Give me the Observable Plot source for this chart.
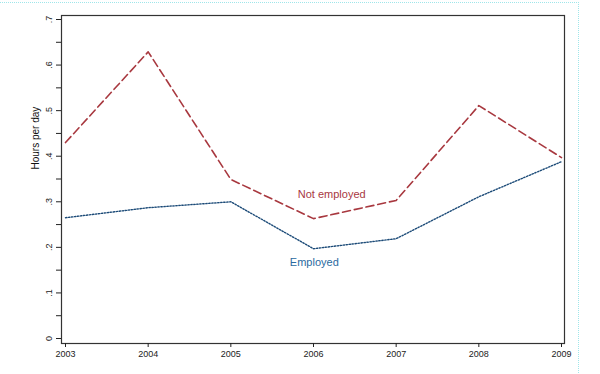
<!DOCTYPE html>
<html><head><meta charset="utf-8">
<script src="https://cdn.jsdelivr.net/npm/d3@7"></script>
<script src="https://cdn.jsdelivr.net/npm/@observablehq/plot@0.6"></script>
<style>
body{margin:0;background:#fff;}
#wrap{position:relative;width:600px;height:374px;}
#deco{position:absolute;left:0;top:2px;width:578px;height:372px;border-top:1px dotted #9fe6ea;border-right:1px dotted #9fe6ea;pointer-events:none;}
</style>
</head><body>
<div id="wrap"><div id="deco"></div><div id="chart"></div></div>
<script>
const years = [2003, 2004, 2005, 2006, 2007, 2008, 2009];
const notEmployed = [0.430, 0.629, 0.349, 0.263, 0.303, 0.511, 0.397];
const employed = [0.265, 0.287, 0.300, 0.197, 0.219, 0.311, 0.388];
const yTicks = [0, 0.1, 0.2, 0.3, 0.4, 0.5, 0.6, 0.7];
const yMinor = [0.05, 0.15, 0.25, 0.35, 0.45, 0.55, 0.65];
const yTitle = "Hours per day";
const labels = [
  {x: 2006.22, y: 0.316, text: "Not employed", series: "ne"},
  {x: 2006.01, y: 0.167, text: "Employed", series: "e"}
];
const neData = years.map((x, i) => ({x, y: notEmployed[i]}));
const eData = years.map((x, i) => ({x, y: employed[i]}));
const fmt = d => d === 0 ? "0" : d.toFixed(1).replace(/^0/, "");
const chart = Plot.plot({
  width: 600, height: 374,
  marginLeft: 61, marginRight: 36, marginTop: 15, marginBottom: 31,
  style: {fontFamily: "Liberation Sans, Arial, sans-serif", fontSize: "9px", background: "transparent"},
  x: {domain: [2003, 2009], insetLeft: 4, insetRight: 3},
  y: {domain: [0, 0.7], insetTop: 4, insetBottom: 5},
  marks: [
    Plot.frame({stroke: "#333", strokeWidth: 1.2}),
    Plot.axisX({ticks: years, tickFormat: d => String(d), tickSize: 4, tickPadding: 3, stroke: "#222", color: "#222", label: null}),
    Plot.axisY({ticks: yMinor, tickFormat: () => "", tickSize: 5, stroke: "#222", label: null}),
    Plot.axisY({ticks: yTicks, tickFormat: fmt, tickSize: 5, tickPadding: 5, tickRotate: -90, stroke: "#222", color: "#222", label: null}),
    Plot.text([yTitle], {frameAnchor: "left", dx: -26, dy: -10, rotate: -90, text: d => d, fontSize: 10, fill: "#111"}),
    Plot.line(neData, {x: "x", y: "y", stroke: "#a8383f", strokeWidth: 1.6, strokeDasharray: "8,4"}),
    Plot.line(eData, {x: "x", y: "y", stroke: "#1c4b78", strokeWidth: 1.4, strokeDasharray: "1.4,1.6"}),
    Plot.text(labels, {x: "x", y: "y", text: "text", fontSize: 11,
      fill: d => d.series === "ne" ? "#a8383f" : "#2a6aa0"})
  ]
});
document.getElementById("chart").appendChild(chart);
</script>
</body></html>
